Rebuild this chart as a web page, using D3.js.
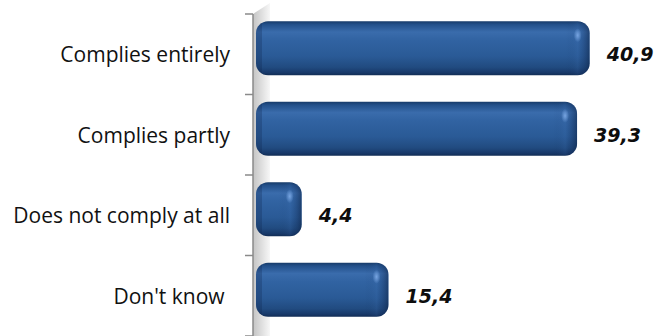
<!DOCTYPE html>
<html><head><meta charset="utf-8">
<script src="https://cdn.jsdelivr.net/npm/d3@7/dist/d3.min.js"></script>
<style>html,body{margin:0;padding:0;background:#fff;overflow:hidden}</style>
</head><body>
<svg id="chart" width="657" height="336"></svg>
<script>
const categories = ["Complies entirely", "Complies partly", "Does not comply at all", "Don't know "];
const values = [40.9, 39.3, 4.4, 15.4];
const valueLabels = ["40,9", "39,3", "4,4", "15,4"];

const W = 657, H = 336;
const svg = d3.select("#chart");
const defs = svg.append("defs");

const x = d3.scaleLinear().domain([0, 50]).range([267, 661.5]);
const y = d3.scaleBand().domain(categories).range([14, 336]).paddingInner(0.33).paddingOuter(0.165);
const depth = 11, lift = 6, axisX = 253;

// gradients
const gBar = defs.append("linearGradient").attr("id", "gBar").attr("x1", 0).attr("y1", 0).attr("x2", 0).attr("y2", 1);
[[0, "#173b69"], [0.06, "#23508a"], [0.2, "#3a6cac"], [0.35, "#3163a2"], [0.65, "#2a5a96"], [0.85, "#214b80"], [0.95, "#18396a"], [1, "#122d55"]]
  .forEach(([o, c]) => gBar.append("stop").attr("offset", o).attr("stop-color", c));
const gCap = defs.append("linearGradient").attr("id", "gCap").attr("x1", 0).attr("y1", 0).attr("x2", 1).attr("y2", 0);
[[0, "rgba(10,30,70,0)"], [0.5, "rgba(70,120,190,0.12)"], [0.65, "rgba(20,45,90,0.12)"], [1, "rgba(8,25,55,0.5)"]]
  .forEach(([o, c]) => gCap.append("stop").attr("offset", o).attr("stop-color", c));
const gWall = defs.append("linearGradient").attr("id", "gWall").attr("x1", 0).attr("y1", 0).attr("x2", 1).attr("y2", 0);
[[0, "#c4c4c4"], [0.5, "#dedede"], [1, "#f7f7f7"]]
  .forEach(([o, c]) => gWall.append("stop").attr("offset", o).attr("stop-color", c));
const gHi = defs.append("radialGradient").attr("id", "gHi");
[[0, "rgba(130,175,235,0.85)"], [1, "rgba(130,175,235,0)"]]
  .forEach(([o, c]) => gHi.append("stop").attr("offset", o).attr("stop-color", c));

// wall
const y0 = y.range()[0], y1 = y.range()[1];
svg.append("path")
  .attr("d", `M${axisX},${y0} L${axisX + 17},${y0 - 11} L${axisX + 17},${H} L${axisX},${H} Z`)
  .attr("fill", "url(#gWall)");

// axis line and ticks at band boundaries
svg.append("line").attr("x1", axisX).attr("x2", axisX).attr("y1", y0).attr("y2", y1)
  .attr("stroke", "#8a8a8a").attr("stroke-width", 1.5);
const step = y.step();
d3.range(categories.length + 1).forEach(i => {
  const ty = y0 + i * step;
  svg.append("line").attr("x1", axisX - 8).attr("x2", axisX).attr("y1", ty).attr("y2", ty)
    .attr("stroke", "#8a8a8a").attr("stroke-width", 1.5);
});

// bars
const bw = y.bandwidth();
const g = svg.selectAll(".bar").data(categories).join("g").attr("class", "bar");
g.each(function (c, i) {
  const sel = d3.select(this);
  const bx = x(0) - depth, by = y(c) - lift, w = x(values[i]) - bx;
  const id = "clip" + i;
  defs.append("clipPath").attr("id", id).append("rect")
    .attr("x", bx).attr("y", by).attr("width", w).attr("height", bw).attr("rx", 12).attr("ry", 12);
  sel.append("rect").attr("x", bx).attr("y", by).attr("width", w).attr("height", bw)
    .attr("rx", 12).attr("ry", 12).attr("fill", "url(#gBar)");
  const cw = Math.min(24, w * 0.5);
  sel.append("rect").attr("clip-path", `url(#${id})`)
    .attr("x", bx + w - cw).attr("y", by).attr("width", cw).attr("height", bw).attr("fill", "url(#gCap)");
  sel.append("rect").attr("clip-path", `url(#${id})`)
    .attr("x", bx).attr("y", by).attr("width", 6).attr("height", bw).attr("fill", "rgba(10,30,70,0.25)");
  sel.append("ellipse").attr("cx", bx + w - 12).attr("cy", by + 14).attr("rx", 4).attr("ry", 7)
    .attr("fill", "url(#gHi)");
});

// category labels
svg.selectAll(".cat").data(categories).join("text").attr("class", "cat")
  .attr("x", 230).attr("y", c => y(c) + bw / 2 + 8)
  .attr("text-anchor", "end").style("white-space", "pre")
  .attr("font-family", "'Open Sans', sans-serif").attr("font-size", 21).attr("fill", "#111")
  .text(c => c);

// value labels
svg.selectAll(".val").data(categories).join("text").attr("class", "val")
  .attr("x", (c, i) => x(values[i]) + 17).attr("y", c => y(c) + bw / 2 + 7)
  .attr("font-family", "'DejaVu Sans', sans-serif").attr("font-weight", "bold").attr("font-style", "italic")
  .attr("font-size", 19).attr("fill", "#0d0d0d")
  .text((c, i) => valueLabels[i]);
</script>
</body></html>
